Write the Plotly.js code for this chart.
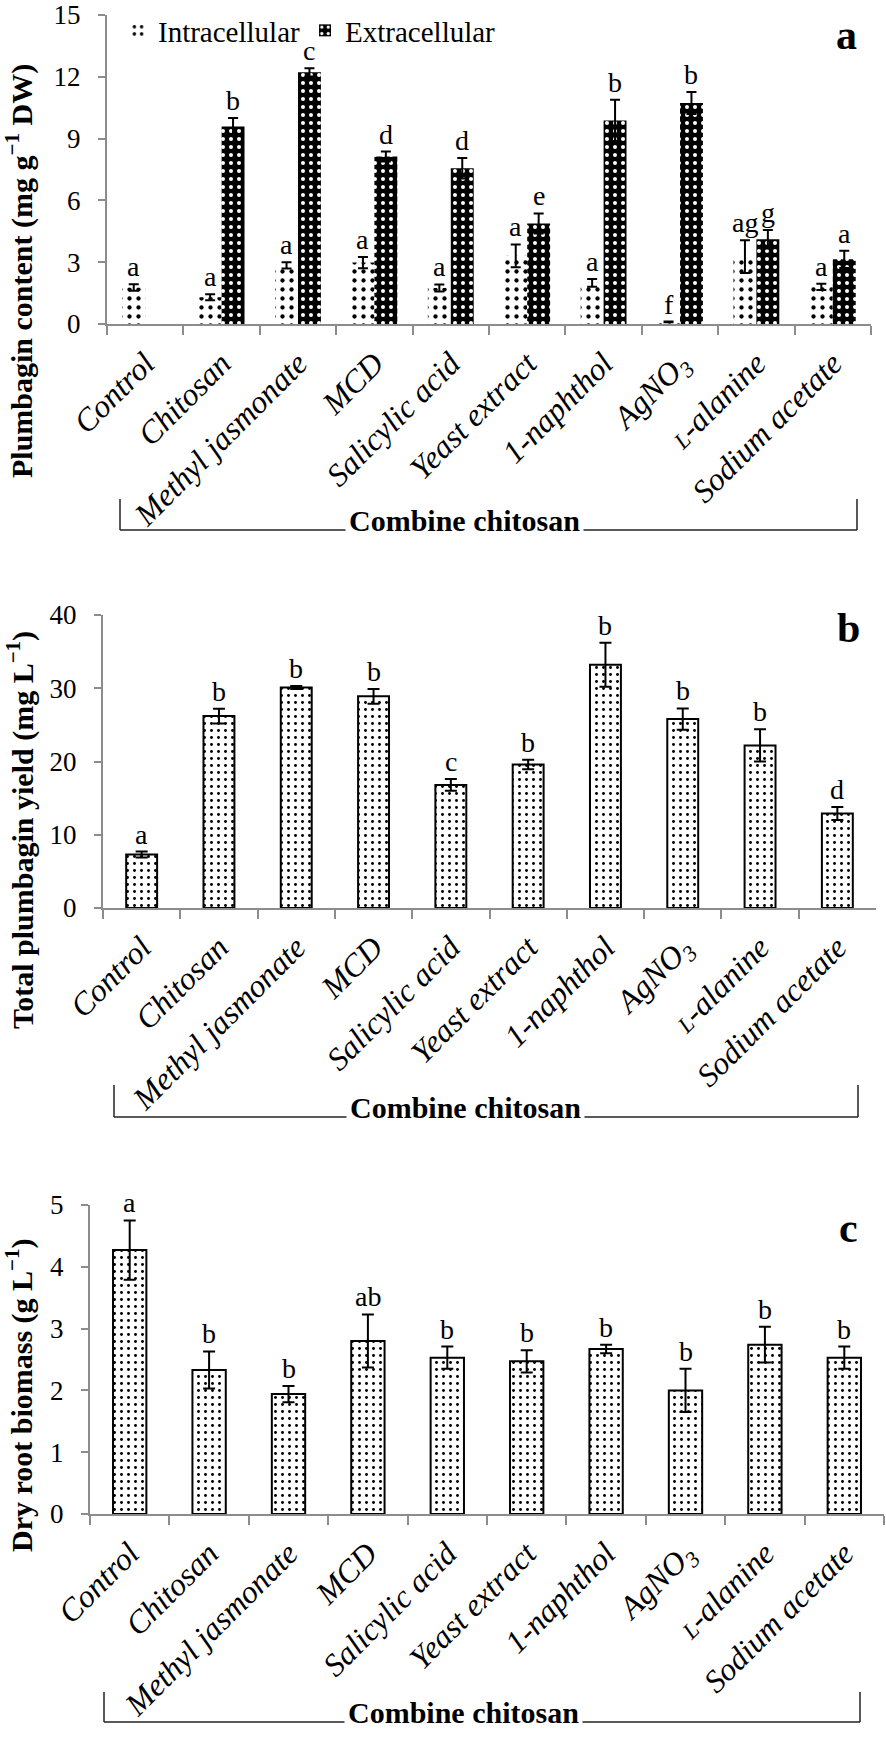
<!DOCTYPE html>
<html>
<head>
<meta charset="utf-8">
<script src="https://cdn.plot.ly/plotly-3.0.1.min.js"></script>
<style>html,body{margin:0;padding:0;background:#fff;}#chart{width:886px;height:1737px;}</style>
</head>
<body>
<div id="chart"></div>
<script>
// ---------------- data ----------------
var categories = ["Control", "Chitosan", "Methyl jasmonate", "MCD", "Salicylic acid",
  "Yeast extract", "1-naphthol", "AgNO<sub>3</sub>", "<span style='font-size:23px'>L</span>-alanine", "Sodium acetate"];

var intraVals = [1.77, 1.3, 2.85, 2.98, 1.75, 3.31, 2.0, 0.1, 3.27, 1.8];
var intraErr  = [0.16, 0.15, 0.15, 0.27, 0.17, 0.55, 0.19, 0.02, 0.8, 0.15];
var intraLetters = ["a", "a", "a", "a", "a", "a", "a", "f", "ag", "a"];

var extraVals = [null, 9.59, 12.22, 8.13, 7.56, 4.88, 9.88, 10.73, 4.11, 3.14];
var extraErr  = [null, 0.41, 0.2, 0.24, 0.5, 0.49, 1.0, 0.53, 0.45, 0.42];
var extraLetters = [null, "b", "c", "d", "d", "e", "b", "b", "g", "a"];

var yieldVals = [7.3, 26.2, 30.1, 28.9, 16.8, 19.6, 33.2, 25.8, 22.2, 12.9];
var yieldErr  = [0.4, 1.0, 0.2, 1.0, 0.8, 0.65, 3.0, 1.45, 2.2, 0.9];
var yieldLetters = ["a", "b", "b", "b", "c", "b", "b", "b", "b", "d"];

var biomassVals = [4.27, 2.33, 1.94, 2.8, 2.53, 2.47, 2.67, 2.0, 2.74, 2.53];
var biomassErr  = [0.48, 0.3, 0.13, 0.43, 0.18, 0.18, 0.07, 0.35, 0.29, 0.18];
var biomassLetters = ["a", "b", "b", "ab", "b", "b", "b", "b", "b", "b"];

var panelLabels = ["a", "b", "c"];
var yTitles = ["Plumbagin content (mg g<sup>−1</sup> DW)", "Total plumbagin yield (mg L<sup>−1</sup>)", "Dry root biomass (g L<sup>−1</sup>)"];
var groupTitle = "Combine chitosan";
var legendNames = ["Intracellular", "Extracellular"];

// ---------------- layout helpers ----------------
var W = 886, H = 1737;
function px(x) { return x / W; }
function py(y) { return 1 - y / H; }
var SERIF = "Liberation Serif, Times New Roman, serif";
var AXC = "#8c8c8c";

var errStyle = {type: "data", visible: true, color: "#000", thickness: 2, width: 5};

var traces = [
  {type: "bar", name: legendNames[0], x: categories, y: intraVals, xaxis: "x", yaxis: "y",
   error_y: Object.assign({array: intraErr}, errStyle),
   marker: {color: "#fff", line: {width: 0},
     pattern: {shape: ".", fgcolor: "#000", bgcolor: "#fff", size: 9, solidity: 0.18}}},
  {type: "bar", name: legendNames[1], x: categories, y: extraVals, xaxis: "x", yaxis: "y",
   error_y: Object.assign({array: extraErr}, errStyle),
   marker: {color: "#000", line: {width: 0},
     pattern: {shape: ".", fgcolor: "#fff", bgcolor: "#000", size: 8, solidity: 0.2}}},
  {type: "bar", name: "yield", showlegend: false, x: categories, y: yieldVals, xaxis: "x2", yaxis: "y2", width: 0.4,
   error_y: Object.assign({array: yieldErr}, errStyle, {width: 6}),
   marker: {color: "#fff", line: {width: 2, color: "#000"},
     pattern: {shape: ".", fgcolor: "#000", bgcolor: "#fff", size: 7, solidity: 0.14}}},
  {type: "bar", name: "biomass", showlegend: false, x: categories, y: biomassVals, xaxis: "x3", yaxis: "y3", width: 0.42,
   error_y: Object.assign({array: biomassErr}, errStyle, {width: 6}),
   marker: {color: "#fff", line: {width: 2, color: "#000"},
     pattern: {shape: ".", fgcolor: "#000", bgcolor: "#fff", size: 7, solidity: 0.14}}}
];

function xAx(domain, anchor) {
  return {domain: domain, anchor: anchor, type: "category", tickson: "boundaries",
    ticks: "outside", ticklen: 9, tickwidth: 2, tickcolor: AXC,
    showline: true, linecolor: AXC, linewidth: 2, showgrid: false, zeroline: false,
    tickangle: -45, ticklabelstandoff: 6,
    tickfont: {family: SERIF, size: 32, color: "#000", style: "italic"},
    automargin: false, fixedrange: true};
}
function yAx(domain, anchor, range, dtick) {
  return {domain: domain, anchor: anchor, range: range, dtick: dtick,
    ticks: "outside", ticklen: 7, tickwidth: 2, tickcolor: AXC,
    showline: true, linecolor: AXC, linewidth: 2, showgrid: false, zeroline: false,
    tickfont: {family: SERIF, size: 27, color: "#000"}, ticklabelstandoff: 12,
    automargin: false, fixedrange: true};
}

var annotations = [];
var shapes = [];
function letter(xref, yref, x, y, t) {
  annotations.push({xref: xref, yref: yref, x: x, y: y, text: t, showarrow: false,
    yanchor: "bottom", xanchor: "center", font: {family: SERIF, size: 28, color: "#000"}});
}
for (var i = 0; i < categories.length; i++) {
  letter("x", "y", i - 0.15, intraVals[i] + intraErr[i], intraLetters[i]);
  if (extraVals[i] !== null) letter("x", "y", i + 0.15, extraVals[i] + extraErr[i], extraLetters[i]);
  letter("x2", "y2", i, yieldVals[i] + yieldErr[i], yieldLetters[i]);
  letter("x3", "y3", i, biomassVals[i] + biomassErr[i], biomassLetters[i]);
}

// panel letters
var plPos = [[846, 35], [848, 628], [848, 1228]];
// y titles
var ytPos = [[19, 271], [20, 830], [19, 1395]];
// brackets: [left, right, top, line, textCenter]
var brk = [[120, 857, 499, 530, 464], [114, 858, 1085, 1117, 466], [104, 860, 1692, 1722, 463]];
for (var p = 0; p < 3; p++) {
  annotations.push({xref: "paper", yref: "paper", x: px(plPos[p][0]), y: py(plPos[p][1]), text: "<b>" + panelLabels[p] + "</b>",
    showarrow: false, xanchor: "center", yanchor: "middle", font: {family: SERIF, size: 42, color: "#000"}});
  annotations.push({xref: "paper", yref: "paper", x: px(ytPos[p][0]), y: py(ytPos[p][1]), text: "<b>" + yTitles[p] + "</b>",
    textangle: -90, showarrow: false, xanchor: "center", yanchor: "middle", font: {family: SERIF, size: 30, color: "#000"}});
  var b = brk[p];
  var lc = {color: "#222", width: 1.5};
  shapes.push({type: "line", xref: "paper", yref: "paper", x0: px(b[0]), x1: px(b[0]), y0: py(b[2]), y1: py(b[3]), line: lc});
  shapes.push({type: "line", xref: "paper", yref: "paper", x0: px(b[1]), x1: px(b[1]), y0: py(b[2]), y1: py(b[3]), line: lc});
  shapes.push({type: "line", xref: "paper", yref: "paper", x0: px(b[0]), x1: px(b[1]), y0: py(b[3]), y1: py(b[3]), line: lc});
  annotations.push({xref: "paper", yref: "paper", x: px(b[4]), y: py(b[3] - 10), text: "<b>" + groupTitle + "</b>",
    showarrow: false, xanchor: "center", yanchor: "middle", bgcolor: "#fff", borderpad: 3,
    font: {family: SERIF, size: 30, color: "#000"}});
}

var layout = {
  width: W, height: H, margin: {l: 0, r: 0, t: 0, b: 0},
  paper_bgcolor: "#fff", plot_bgcolor: "rgba(0,0,0,0)",
  barmode: "group", bargap: 0.4, bargroupgap: 0,
  font: {family: SERIF, color: "#000"},
  showlegend: true,
  legend: {orientation: "h", x: px(118), y: py(5), xanchor: "left", yanchor: "top",
    font: {family: SERIF, size: 29, color: "#000"}, bgcolor: "rgba(0,0,0,0)", itemwidth: 30, traceorder: "normal"},
  xaxis: xAx([px(107), px(871)], "y"),
  yaxis: yAx([py(324), py(15)], "x", [0, 15], 3),
  xaxis2: xAx([px(103), px(876)], "y2"),
  yaxis2: yAx([py(908), py(615)], "x2", [0, 40], 10),
  xaxis3: xAx([px(90), px(884)], "y3"),
  yaxis3: yAx([py(1514), py(1205)], "x3", [0, 5], 1),
  annotations: annotations,
  shapes: shapes
};

Plotly.newPlot("chart", traces, layout, {displayModeBar: false, staticPlot: true});
</script>
</body>
</html>
